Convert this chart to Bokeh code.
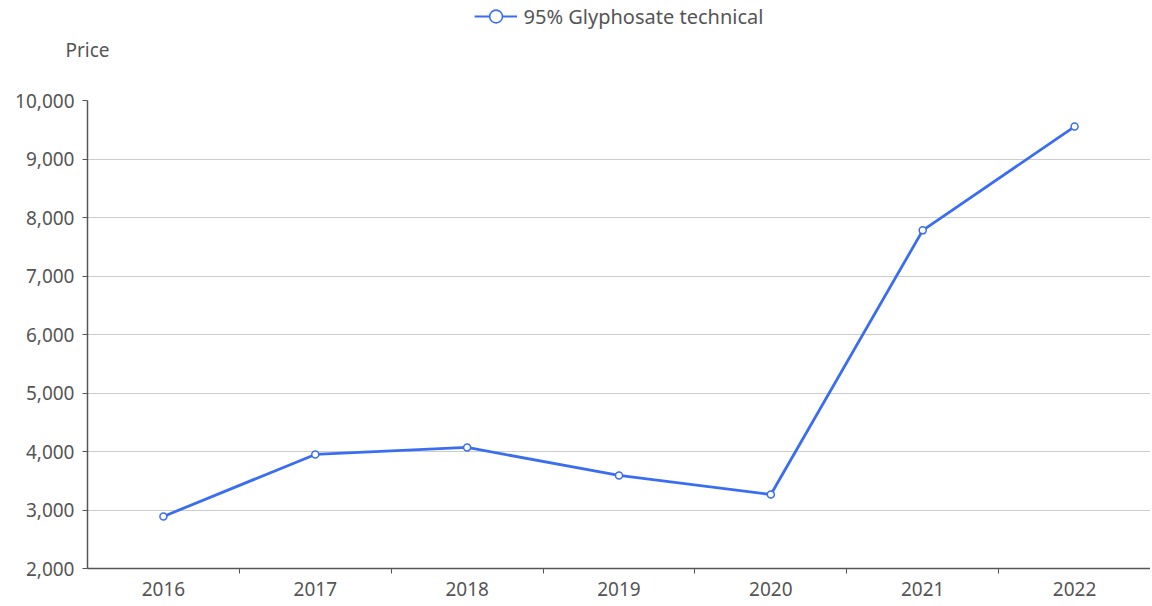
from bokeh.plotting import figure
from bokeh.layouts import column
from bokeh.models import (ColumnDataSource, FixedTicker, Range1d, Legend, LegendItem,
                          NumeralTickFormatter)
from bokeh.embed import file_html
from bokeh.resources import INLINE

years = [2016, 2017, 2018, 2019, 2020, 2021, 2022]
prices = [2890, 3950, 4070, 3590, 3265, 7780, 9555]
series_name = "95% Glyphosate technical"
y_ticks = [2000, 3000, 4000, 5000, 6000, 7000, 8000, 9000, 10000]
y_title = "Price"

FONT = "Noto Sans"
BLUE = "#3a6df0"
TEXT = "#555555"
AXIS = "#555555"
FS = "19px"
W = 1150
LEG_H = 32
TTL_H = 40
FRAME_TOP = 100
LEFT = 87
TTL_POS = 37  # position of the title inside its strip (from top)

src = ColumnDataSource(dict(x=years, y=prices))

# ---- main chart ----
p = figure(width=W, height=604 - LEG_H - TTL_H, output_backend="svg", toolbar_location=None,
           x_range=Range1d(years[0] - 0.5, years[-1] + 0.5),
           y_range=Range1d(y_ticks[0], y_ticks[-1]),
           min_border_left=LEFT, min_border_right=0,
           min_border_top=FRAME_TOP - LEG_H - TTL_H, min_border_bottom=36)
p.outline_line_color = None

p.line("x", "y", source=src, line_color=BLUE, line_width=2.8)
p.scatter("x", "y", source=src, size=7, fill_color="white", line_color=BLUE, line_width=1.5)

xa = p.xaxis[0]
xa.ticker = FixedTicker(ticks=years, minor_ticks=[y + 0.5 for y in years[:-1]])
xa.major_tick_line_color = None
xa.major_tick_out = 0
xa.minor_tick_out = 5
xa.minor_tick_in = 0
xa.minor_tick_line_color = AXIS
xa.axis_line_color = AXIS
xa.axis_line_width = 1.5
xa.major_label_standoff = 8
xa.major_label_text_font = FONT
xa.major_label_text_font_size = FS
xa.major_label_text_color = TEXT

ya = p.yaxis[0]
ya.ticker = FixedTicker(ticks=y_ticks, minor_ticks=[])
ya.formatter = NumeralTickFormatter(format="0,0")
ya.major_tick_out = 5
ya.major_tick_in = 0
ya.major_tick_line_color = AXIS
ya.axis_line_color = AXIS
ya.axis_line_width = 1.5
ya.major_label_standoff = 8
ya.major_label_text_font = FONT
ya.major_label_text_font_size = FS
ya.major_label_text_color = TEXT

p.xgrid.grid_line_color = None
p.ygrid.grid_line_color = "#cccccc"
p.ygrid.grid_line_width = 1.2

# ---- y-axis title strip (title drawn as the single label of a bare axis) ----
tt = figure(width=W, height=TTL_H, output_backend="svg", toolbar_location=None,
            x_axis_type=None, x_range=Range1d(0, 1), y_range=Range1d(TTL_H, 0),
            min_border_left=LEFT, min_border_right=0, min_border_top=0, min_border_bottom=0)
tt.outline_line_color = None
tt.grid.visible = False
ta = tt.yaxis[0]
ta.ticker = FixedTicker(ticks=[TTL_POS], minor_ticks=[])
ta.major_label_overrides = {TTL_POS: y_title}
ta.axis_line_color = None
ta.major_tick_line_color = None
ta.minor_tick_line_color = None
ta.major_tick_out = 0
ta.major_tick_in = 0
ta.major_label_standoff = -22
ta.major_label_text_font = FONT
ta.major_label_text_font_size = FS
ta.major_label_text_color = TEXT

# ---- legend strip ----
lg = figure(width=W, height=LEG_H, output_backend="svg", toolbar_location=None,
            x_axis_type=None, y_axis_type=None,
            x_range=Range1d(0, 1), y_range=Range1d(0, 1),
            min_border_left=LEFT, min_border_right=0, min_border_top=0, min_border_bottom=0)
lg.outline_line_color = None
lg.grid.visible = False
l_ln = lg.line("x", "y", source=src, line_color=BLUE, line_width=2.2)
l_sc = lg.scatter("x", "y", source=src, fill_color="white", line_color=BLUE, line_width=1.6)
lg.add_layout(Legend(items=[LegendItem(label=series_name, renderers=[l_ln, l_sc])],
                     location="center", orientation="horizontal",
                     glyph_width=43, glyph_height=32, padding=0, margin=0,
                     label_text_font=FONT, label_text_font_size="20px",
                     label_text_color=TEXT, label_standoff=7,
                     border_line_color=None, background_fill_alpha=0), "center")

layout = column(lg, tt, p, spacing=0)
open("out.html", "w").write(file_html(layout, INLINE))
